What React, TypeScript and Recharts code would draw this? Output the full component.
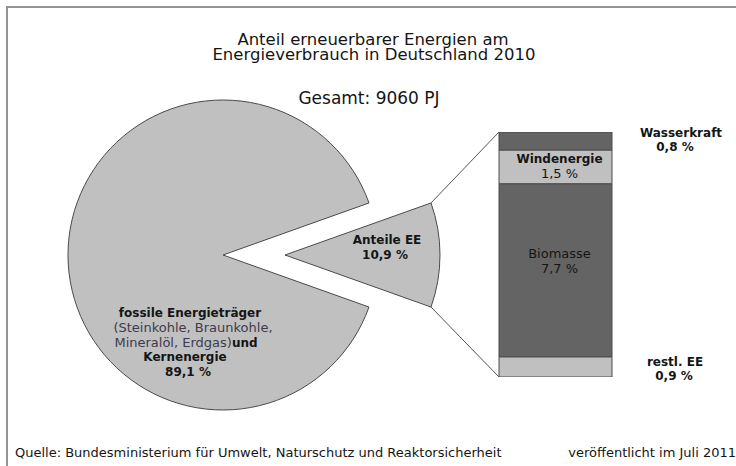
import React from 'react';
import { PieChart, Pie, Cell, BarChart, Bar, XAxis, YAxis, LabelList } from 'recharts';

// ---------- data ----------
const TITLE_LINES = ['Anteil erneuerbarer Energien am', 'Energieverbrauch in Deutschland 2010'];
const TOTAL_LABEL = 'Gesamt: 9060 PJ';
const pieCategories = ['fossile Energieträger und Kernenergie', 'Anteile EE'];
const pieValues = [89.1, 10.9];
const eeCategories = ['restl. EE', 'Biomasse', 'Windenergie', 'Wasserkraft'];
const eeValues = [0.9, 7.7, 1.5, 0.8];
const SOURCE = 'Quelle: Bundesministerium für Umwelt, Naturschutz und Reaktorsicherheit';
const PUBLISHED = 'veröffentlicht im Juli 2011';

// ---------- layout / style ----------
const W = 736;
const H = 466;
const FONT = "'DejaVu Sans', Verdana, sans-serif";
const PIE_CX = 223;
const PIE_CY = 255;
const PIE_R = 155;
const EXPLODE = 62;
const BAR_LEFT = 499;
const BAR_RIGHT = 612;
const BAR_TOP = 132;
const BAR_BOTTOM = 377;
const LIGHT = '#c0c0c0';
const DARK = '#646464';
const OUTLINE = '#4a4a4a';
const TEXT = '#151515';
const SUBTEXT = '#3c3c4c';
const barFills = [LIGHT, DARK, LIGHT, DARK];

const fmt = (v: number) => v.toFixed(1).replace('.', ',') + ' %';

const pieData = pieCategories.map((name, i) => ({ name, value: pieValues[i] }));
const pieTotal = pieValues.reduce((a, b) => a + b, 0);
const halfEEAngle = (pieValues[1] / pieTotal) * 180;

const barRow: Record<string, number | string> = { name: 'EE' };
eeCategories.forEach((c, i) => {
  barRow['k' + i] = eeValues[i];
});
const barData = [barRow];
const eeTotal = eeValues.reduce((a, b) => a + b, 0);

// label placement relative to each segment
const makeLabel = (idx: number) => (props: any) => {
  const vb = props.viewBox ?? props;
  const x = Number(vb.x);
  const w = Number(vb.width);
  let y = Number(vb.y);
  let h = Number(vb.height);
  if (h < 0) {
    y = y + h;
    h = -h;
  }
  const name = eeCategories[idx];
  const val = fmt(Number(props.value));
  const cxIn = x + w / 2 + 4;
  const cy = y + h / 2;
  const right = x + w;
  const base = { fontFamily: FONT, fill: TEXT, textAnchor: 'middle' as const };
  if (idx === 0) {
    return (
      <g>
        <text x={right + 63} y={y + 9} fontSize={12} fontWeight="bold" {...base}>{name}</text>
        <text x={right + 62} y={y + 23} fontSize={12} fontWeight="bold" {...base}>{val}</text>
      </g>
    );
  }
  if (idx === 1) {
    return (
      <g>
        <text x={cxIn} y={cy - 12} fontSize={13} {...base}>{name}</text>
        <text x={cxIn} y={cy + 3} fontSize={13} {...base}>{val}</text>
      </g>
    );
  }
  if (idx === 2) {
    return (
      <g>
        <text x={cxIn} y={cy - 4} fontSize={12} fontWeight="bold" {...base}>{name}</text>
        <text x={cxIn} y={cy + 11} fontSize={13} {...base}>{val}</text>
      </g>
    );
  }
  return (
    <g>
      <text x={right + 69} y={y + 5} fontSize={12} fontWeight="bold" {...base}>{name}</text>
      <text x={right + 63} y={y + 19} fontSize={12} fontWeight="bold" {...base}>{val}</text>
    </g>
  );
};

export default function App() {
  const rad = (halfEEAngle * Math.PI) / 180;
  const cornerX = PIE_CX + EXPLODE + PIE_R * Math.cos(rad);
  const cornerTopY = PIE_CY - PIE_R * Math.sin(rad);
  const cornerBotY = PIE_CY + PIE_R * Math.sin(rad);

  return (
    <div style={{ position: 'absolute', left: 0, top: 0, width: W, height: H, background: '#fff', overflow: 'hidden' }}>
      <div style={{ position: 'absolute', left: 0, top: 0 }}>
        <PieChart width={W} height={H} margin={{ top: 0, right: 0, bottom: 0, left: 0 }}>
          <Pie
            data={pieData}
            dataKey="value"
            nameKey="name"
            cx={PIE_CX}
            cy={PIE_CY}
            outerRadius={PIE_R}
            innerRadius={0}
            startAngle={halfEEAngle}
            endAngle={halfEEAngle + 360}
            isAnimationActive={false}
          >
            <Cell fill={LIGHT} stroke={OUTLINE} strokeWidth={1} />
            <Cell fill="none" stroke="none" />
          </Pie>
          <Pie
            data={pieData}
            dataKey="value"
            nameKey="name"
            cx={PIE_CX + EXPLODE}
            cy={PIE_CY}
            outerRadius={PIE_R}
            innerRadius={0}
            startAngle={halfEEAngle}
            endAngle={halfEEAngle + 360}
            isAnimationActive={false}
          >
            <Cell fill="none" stroke="none" />
            <Cell fill={LIGHT} stroke={OUTLINE} strokeWidth={1} />
          </Pie>
        </PieChart>
      </div>
      <div style={{ position: 'absolute', left: 0, top: 0 }}>
        <BarChart
          width={W}
          height={H}
          data={barData}
          margin={{ top: BAR_TOP, right: W - BAR_RIGHT, bottom: H - BAR_BOTTOM, left: BAR_LEFT }}
          barCategoryGap={0}
          barGap={0}
        >
          <XAxis dataKey="name" hide />
          <YAxis type="number" domain={[0, eeTotal]} hide allowDataOverflow />
          {eeCategories.map((c, i) => (
            <Bar
              key={c}
              dataKey={'k' + i}
              name={c}
              stackId="ee"
              fill={barFills[i]}
              stroke={OUTLINE}
              strokeWidth={1}
              isAnimationActive={false}
            >
              <LabelList dataKey={'k' + i} content={makeLabel(i)} />
            </Bar>
          ))}
        </BarChart>
      </div>
      <svg
        width={W}
        height={H}
        style={{ position: 'absolute', left: 0, top: 0, pointerEvents: 'none' }}
      >
        {/* frame */}
        <line x1={7} y1={7} x2={W} y2={7} stroke="#949494" strokeWidth={2} />
        <line x1={7} y1={6} x2={7} y2={H} stroke="#949494" strokeWidth={2} />

        {/* connectors */}
        <line x1={cornerX} y1={cornerTopY} x2={BAR_LEFT} y2={BAR_TOP} stroke="#555" strokeWidth={1} />
        <line x1={cornerX} y1={cornerBotY} x2={BAR_LEFT} y2={BAR_BOTTOM} stroke="#555" strokeWidth={1} />

        {/* title */}
        <text x={373} y={45} fontFamily={FONT} fontSize={16.5} fill={TEXT} textAnchor="middle">{TITLE_LINES[0]}</text>
        <text x={374} y={60} fontFamily={FONT} fontSize={16.5} fill={TEXT} textAnchor="middle">{TITLE_LINES[1]}</text>
        <text x={369} y={104} fontFamily={FONT} fontSize={17} fill={TEXT} textAnchor="middle">{TOTAL_LABEL}</text>

        {/* fossil label */}
        <text x={190} y={317} fontFamily={FONT} fontSize={12} fontWeight="bold" fill={TEXT} textAnchor="middle">fossile Energieträger</text>
        <text x={193} y={332} fontFamily={FONT} fontSize={13} fill={SUBTEXT} textAnchor="middle">(Steinkohle, Braunkohle,</text>
        <text x={186} y={347} fontFamily={FONT} fontSize={13} fill={SUBTEXT} textAnchor="middle">
          Mineralöl, Erdgas)
          <tspan fontWeight="bold" fontSize={12} fill={TEXT}>und</tspan>
        </text>
        <text x={185} y={361} fontFamily={FONT} fontSize={12} fontWeight="bold" fill={TEXT} textAnchor="middle">Kernenergie</text>
        <text x={188} y={376} fontFamily={FONT} fontSize={12} fontWeight="bold" fill={TEXT} textAnchor="middle">{fmt(pieValues[0])}</text>

        {/* EE label */}
        <text x={387} y={244} fontFamily={FONT} fontSize={12} fontWeight="bold" fill={TEXT} textAnchor="middle">{pieCategories[1]}</text>
        <text x={385} y={259} fontFamily={FONT} fontSize={12} fontWeight="bold" fill={TEXT} textAnchor="middle">{fmt(pieValues[1])}</text>

        {/* footer */}
        <text x={15} y={457} fontFamily={FONT} fontSize={13} fill={TEXT} textAnchor="start">{SOURCE}</text>
        <text x={736} y={457} fontFamily={FONT} fontSize={13} fill={TEXT} textAnchor="end">{PUBLISHED}</text>
      </svg>
    </div>
  );
}
